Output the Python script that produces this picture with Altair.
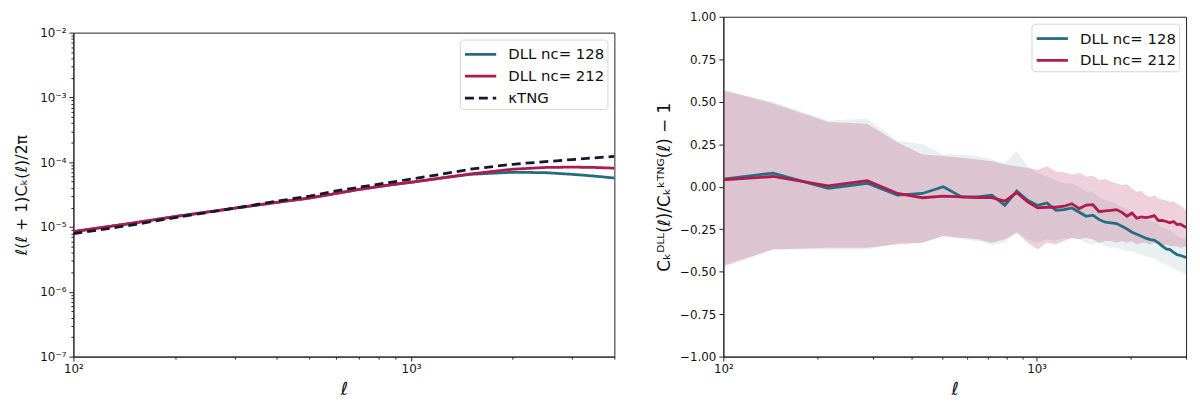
import altair as alt
import pandas as pd

# ---- left panel: l(l+1)C(l)/2pi ----
ELL_LEFT = [100, 150, 200, 300, 400, 500, 600, 700, 850, 1000, 1200, 1500, 2000, 2500, 3000, 3500, 4000]
CL_NC128 = [8.5e-6, 1.15e-5, 1.45e-5, 1.95e-5, 2.4e-5, 2.8e-5, 3.3e-5, 3.8e-5, 4.4e-5, 4.9e-5,
            5.6e-5, 6.5e-5, 7.0e-5, 6.9e-5, 6.5e-5, 6.1e-5, 5.7e-5]
CL_NC212 = [8.5e-6, 1.15e-5, 1.45e-5, 1.95e-5, 2.4e-5, 2.8e-5, 3.3e-5, 3.8e-5, 4.4e-5, 4.9e-5,
            5.6e-5, 6.6e-5, 7.8e-5, 8.3e-5, 8.4e-5, 8.3e-5, 8.1e-5]
CL_KTNG = [7.9e-6, 1.08e-5, 1.4e-5, 1.95e-5, 2.5e-5, 3.0e-5, 3.6e-5, 4.1e-5, 4.8e-5, 5.5e-5,
           6.4e-5, 7.8e-5, 9.3e-5, 1.02e-4, 1.1e-4, 1.17e-4, 1.23e-4]

# ---- right panel: relative difference to kTNG ----
ELL_RIGHT = [100, 144, 216, 288, 360, 432, 504, 576, 648, 720, 792, 864, 936, 1008, 1080, 1152,
             1224, 1296, 1368, 1440, 1512, 1584, 1656, 1728, 1800, 1872, 1944, 2016, 2088, 2160,
             2232, 2304, 2376, 2448, 2520, 2592, 2664, 2736, 2808, 2880, 3000]
MEAN_NC128 = [0.045, 0.08, -0.01, 0.02, -0.05, -0.04, 0.0, -0.06, -0.06, -0.05, -0.11, -0.025,
              -0.08, -0.11, -0.096, -0.139, -0.135, -0.125, -0.15, -0.174, -0.168, -0.194, -0.209,
              -0.213, -0.217, -0.233, -0.249, -0.268, -0.28, -0.292, -0.303, -0.311, -0.315,
              -0.331, -0.35, -0.366, -0.37, -0.386, -0.4, -0.405, -0.417]
LO_NC128 = [-0.46, -0.37, -0.37, -0.37, -0.33, -0.33, -0.29, -0.31, -0.32, -0.34, -0.33, -0.27,
            -0.31, -0.33, -0.31, -0.32, -0.3, -0.31, -0.31, -0.33, -0.34, -0.33, -0.35, -0.36,
            -0.36, -0.37, -0.38, -0.38, -0.39, -0.4, -0.41, -0.42, -0.42, -0.44, -0.45, -0.46,
            -0.47, -0.48, -0.49, -0.5, -0.52]
HI_NC128 = [0.56, 0.5, 0.39, 0.4, 0.27, 0.25, 0.19, 0.19, 0.18, 0.16, 0.14, 0.21, 0.12, 0.08,
            0.06, 0.04, 0.02, 0.02, 0.0, -0.03, -0.03, -0.06, -0.08, -0.09, -0.1, -0.12, -0.13,
            -0.15, -0.17, -0.18, -0.19, -0.2, -0.21, -0.22, -0.24, -0.25, -0.26, -0.27, -0.29,
            -0.3, -0.31]
MEAN_NC212 = [0.04, 0.06, 0.005, 0.035, -0.04, -0.065, -0.055, -0.06, -0.065, -0.065, -0.085,
              -0.035, -0.09, -0.125, -0.121, -0.121, -0.115, -0.1, -0.129, -0.108, -0.106, -0.147,
              -0.143, -0.139, -0.135, -0.151, -0.174, -0.155, -0.186, -0.178, -0.182, -0.178,
              -0.17, -0.2, -0.198, -0.205, -0.213, -0.205, -0.223, -0.221, -0.24]
LO_NC212 = [-0.47, -0.37, -0.36, -0.36, -0.34, -0.33, -0.29, -0.3, -0.31, -0.33, -0.31, -0.27,
            -0.33, -0.37, -0.33, -0.34, -0.32, -0.3, -0.31, -0.3, -0.31, -0.33, -0.32, -0.32,
            -0.33, -0.32, -0.33, -0.32, -0.34, -0.33, -0.33, -0.34, -0.33, -0.34, -0.35, -0.34,
            -0.35, -0.35, -0.35, -0.36, -0.35]
HI_NC212 = [0.57, 0.49, 0.38, 0.37, 0.26, 0.19, 0.18, 0.17, 0.16, 0.15, 0.13, 0.12, 0.11, 0.1,
            0.12, 0.09, 0.085, 0.07, 0.08, 0.06, 0.065, 0.04, 0.045, 0.03, 0.02, 0.01, 0.015,
            -0.01, -0.03, -0.025, -0.05, -0.06, -0.05, -0.07, -0.075, -0.08, -0.09, -0.085, -0.1,
            -0.11, -0.14]

SERIES = ["DLL nc= 128", "DLL nc= 212", "κTNG"]
COLORS = ["#226d82", "#b01a4d", "#16162e"]
DASHES = [[1, 0], [1, 0], [9, 5]]
BAND_OPACITY = [0.1, 0.2]

X_TICKS_LEFT = [100, 200, 300, 400, 500, 600, 700, 800, 900, 1000, 2000, 3000, 4000]
X_TICKS_RIGHT = [100, 200, 300, 400, 500, 600, 700, 800, 900, 1000, 2000, 3000]
X_MAJOR = [100, 1000]
X_LABELS = ["10²", "10³"]
Y_MAJOR_LEFT = [1e-7, 1e-6, 1e-5, 1e-4, 1e-3, 1e-2]
Y_LABELS_LEFT = ["10⁻⁷", "10⁻⁶", "10⁻⁵", "10⁻⁴", "10⁻³", "10⁻²"]
Y_TICKS_LEFT = [m * k for m in Y_MAJOR_LEFT[:-1] for k in range(1, 10)] + [1e-2]
Y_TICKS_RIGHT = [-1.0, -0.75, -0.5, -0.25, 0.0, 0.25, 0.5, 0.75, 1.0]


def label_expr(values, labels):
    expr = "''"
    for v, t in zip(values, labels):
        expr = f"datum.value == {v!r} ? '{t}' : ({expr})"
    return expr


def tick_size(major):
    arr = "[" + ", ".join(repr(v) for v in major) + "]"
    return {"condition": {"test": f"indexof({arr}, datum.value) >= 0", "value": 4.5}, "value": 2.5}


def x_axis(ticks):
    return alt.Axis(values=ticks, labelExpr=label_expr(X_MAJOR, X_LABELS), tickSize=tick_size(X_MAJOR),
                    title="ℓ", titleFontStyle="italic", titleFontSize=18, titleFontWeight="normal",
                    titlePadding=6, labelFlush=False)


legend = alt.Legend(title=None, orient="top-right", offset=7)

left_df = pd.DataFrame({
    "ell": ELL_LEFT * 3,
    "value": CL_NC128 + CL_NC212 + CL_KTNG,
    "series": [SERIES[0]] * len(ELL_LEFT) + [SERIES[1]] * len(ELL_LEFT) + [SERIES[2]] * len(ELL_LEFT),
})

left = alt.Chart(left_df).mark_line(strokeWidth=2.8, clip=True).encode(
    x=alt.X("ell:Q", scale=alt.Scale(type="log", domain=[100, 4000], nice=False), axis=x_axis(X_TICKS_LEFT)),
    y=alt.Y("value:Q", scale=alt.Scale(type="log", domain=[1e-7, 1e-2], nice=False),
            axis=alt.Axis(values=Y_TICKS_LEFT, labelExpr=label_expr(Y_MAJOR_LEFT, Y_LABELS_LEFT),
                          tickSize=tick_size(Y_MAJOR_LEFT), title="ℓ(ℓ + 1)Cₖ(ℓ)/2π",
                          titleFontSize=16, titleFontWeight="normal", titlePadding=10)),
    stroke=alt.Stroke("series:N", scale=alt.Scale(domain=SERIES, range=COLORS), legend=legend),
    strokeDash=alt.StrokeDash("series:N", scale=alt.Scale(domain=SERIES, range=DASHES), legend=legend),
).properties(width=546, height=327)

# empty strip that pushes the left panel down so both panels end at the same baseline
spacer = alt.Chart(pd.DataFrame({"s": [0]})).mark_text(text="").encode(
    x=alt.value(0), y=alt.value(0)
).properties(width=546, height=1, view=alt.ViewBackground(stroke="transparent"))

left_col = (
    alt.vconcat(spacer, left, spacing=3)
    .resolve_scale(stroke="independent", strokeDash="independent")
    .resolve_legend(stroke="independent", strokeDash="independent")
)

n = len(ELL_RIGHT)
right_df = pd.DataFrame({
    "ell": ELL_RIGHT * 2,
    "mean": MEAN_NC128 + MEAN_NC212,
    "lo": LO_NC128 + LO_NC212,
    "hi": HI_NC128 + HI_NC212,
    "series": [SERIES[0]] * n + [SERIES[1]] * n,
})

rx = alt.X("ell:Q", scale=alt.Scale(type="log", domain=[100, 3000], nice=False), axis=x_axis(X_TICKS_RIGHT))
ry_scale = alt.Scale(domain=[-1, 1], nice=False)
ry_axis = alt.Axis(values=Y_TICKS_RIGHT, format=".2f", tickSize=4.5,
                   title="Cₖᴰᴸᴸ(ℓ)/Cₖᵏᵀᴺᴳ(ℓ) − 1", titleFontSize=17,
                   titleFontWeight="normal", titlePadding=6)

bands = [
    alt.Chart(right_df).transform_filter(alt.datum.series == name)
    .mark_area(clip=True, color=col, opacity=op)
    .encode(x=rx, y=alt.Y("lo:Q", scale=ry_scale, axis=ry_axis), y2="hi:Q")
    for name, col, op in zip(SERIES[:2], COLORS[:2], BAND_OPACITY)
]

lines = alt.Chart(right_df).mark_line(strokeWidth=2.8, clip=True).encode(
    x=rx,
    y=alt.Y("mean:Q", scale=ry_scale),
    stroke=alt.Stroke("series:N", scale=alt.Scale(domain=SERIES[:2], range=COLORS[:2]), legend=legend),
)

right = alt.layer(*bands, lines).properties(width=467, height=343)

chart = (
    alt.hconcat(left_col, right, spacing=40)
    .resolve_scale(x="independent", y="independent", stroke="independent", strokeDash="independent")
    .resolve_legend(stroke="independent", strokeDash="independent")
    .properties(padding={"left": 5, "right": 5, "top": 0, "bottom": 5})
    .configure_view(stroke="#222222", strokeWidth=1)
    .configure_axis(grid=False, domainColor="#222222", tickColor="#222222", labelColor="#111111",
                    titleColor="#111111", labelFont="DejaVu Sans", titleFont="DejaVu Sans",
                    labelFontSize=12, domainWidth=1, tickWidth=1, labelPadding=3)
    # wide, flat line symbols: long stroke but short legend rows
    .configure_legend(fillColor="white", strokeColor="#d6d6d6", cornerRadius=3, padding=3,
                      labelFont="DejaVu Sans", labelFontSize=15, labelColor="#111111",
                      symbolType="M-1.5,0H1.5", symbolSize=441, symbolStrokeWidth=2.8,
                      symbolOffset=6, rowPadding=2, labelOffset=16)
)

chart.save("out.html", embed_options={"renderer": "svg", "actions": False})
